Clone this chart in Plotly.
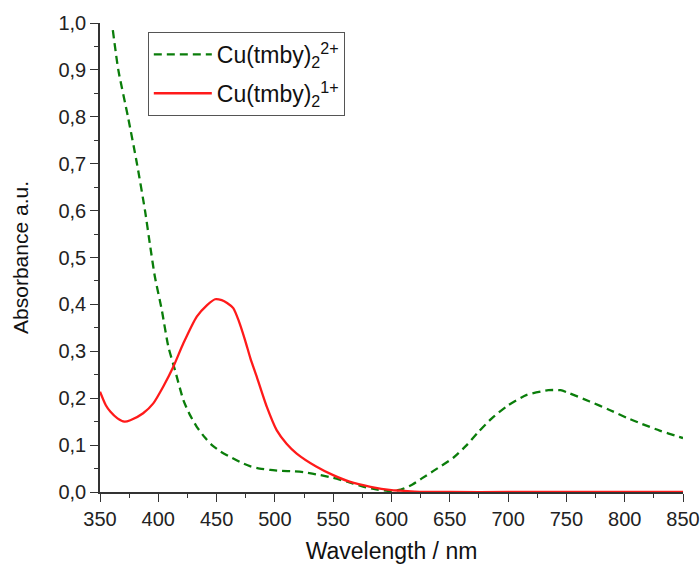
import plotly.graph_objects as go

# UV-Vis absorption spectra of the two copper complexes
wl_cu2 = [361, 365.7, 374, 381.7, 388.6, 393, 397, 403, 408.6, 414.3, 421.5,
          427, 433, 440, 446, 453, 461.5, 470, 478.6, 487, 496, 506, 516,
          525, 539, 550, 562, 575, 588, 600, 608, 618, 626, 636, 653, 664.5,
          674.5, 686, 699, 716, 734.5, 745, 753, 770, 787, 802, 815, 830,
          846, 850]
abs_cu2 = [0.985, 0.90, 0.80, 0.70, 0.60, 0.525, 0.46, 0.388, 0.31, 0.26,
           0.196, 0.165, 0.139, 0.116, 0.100, 0.087, 0.075, 0.064, 0.055,
           0.050, 0.047, 0.045, 0.044, 0.042, 0.036, 0.030, 0.022, 0.012,
           0.005, 0.002, 0.005, 0.016, 0.029, 0.045, 0.073, 0.100, 0.128,
           0.157, 0.183, 0.207, 0.217, 0.217, 0.210, 0.193, 0.175, 0.158,
           0.145, 0.131, 0.118, 0.115]

wl_cu1 = [350, 355, 359, 365, 371, 376, 387, 395.7, 404.3, 412.9, 421.5, 433,
          441.6, 448.7, 454.4, 459, 464.3, 469, 474.4, 479, 484.4, 493, 501.5,
          510, 518.7, 535, 550, 564, 582, 600, 607, 620, 650, 700, 750, 800,
          850]
abs_cu1 = [0.214, 0.185, 0.171, 0.157, 0.150, 0.153, 0.168, 0.189, 0.225,
           0.267, 0.317, 0.374, 0.398, 0.411, 0.409, 0.403, 0.392, 0.365,
           0.324, 0.285, 0.246, 0.182, 0.132, 0.103, 0.082, 0.055, 0.036,
           0.022, 0.011, 0.004, 0.003, 0.001, 0.0, 0.0, 0.0, 0.0, 0.0]

x_ticks = [350, 400, 450, 500, 550, 600, 650, 700, 750, 800, 850]
y_ticks = [0.0, 0.1, 0.2, 0.3, 0.4, 0.5, 0.6, 0.7, 0.8, 0.9, 1.0]

fig = go.Figure()
fig.add_trace(go.Scatter(
    x=wl_cu2, y=abs_cu2, mode="lines", legendgroup="cu2",
    name="Cu(tmby)<sub>2</sub><sup>2+</sup>",
    line=dict(color="#0a7d0a", width=2.3, dash="8px,5px", shape="spline", smoothing=0.6),
))
fig.add_trace(go.Scatter(
    x=wl_cu1, y=abs_cu1, mode="lines", legendgroup="cu1",
    name="Cu(tmby)<sub>2</sub><sup>1+</sup>",
    line=dict(color="#ff1a1a", width=2.3, shape="spline", smoothing=0.6),
))

axis_common = dict(
    showgrid=False, zeroline=False, showline=True, linecolor="#333333",
    linewidth=1.6, ticks="outside", tickcolor="#333333", tickwidth=1.4,
    ticklen=8, layer="below traces", mirror=False, automargin=False,
    tickfont=dict(family="Liberation Sans, Arial", size=20, color="#222222"),
)

fig.update_xaxes(
    range=[350, 850], tickvals=x_ticks,
    minor=dict(ticks="outside", dtick=25, ticklen=4, tickcolor="#333333", tickwidth=1.4),
    title=dict(text="Wavelength / nm", standoff=26,
               font=dict(family="Liberation Sans, Arial", size=23, color="#111111")),
    **axis_common,
)
fig.update_yaxes(
    range=[0, 1.0], tickvals=y_ticks, tickformat=".1f",
    minor=dict(ticks="outside", dtick=0.05, ticklen=4, tickcolor="#333333", tickwidth=1.4),
    title=dict(text="Absorbance a.u.", standoff=24,
               font=dict(family="Liberation Sans, Arial", size=21, color="#111111")),
    **axis_common,
)

fig.update_layout(
    width=700, height=564,
    margin=dict(l=100, r=17, t=23, b=72),
    paper_bgcolor="white", plot_bgcolor="white",
    separators=",.",
    showlegend=True,
    legend=dict(
        x=0.082, y=0.981, xanchor="left", yanchor="top",
        bgcolor="white", bordercolor="#555555", borderwidth=1,
        font=dict(family="Liberation Sans, Arial", size=23, color="#111111"),
        itemwidth=58, tracegroupgap=6, traceorder="grouped",
    ),
)

fig.write_html("out.html")
